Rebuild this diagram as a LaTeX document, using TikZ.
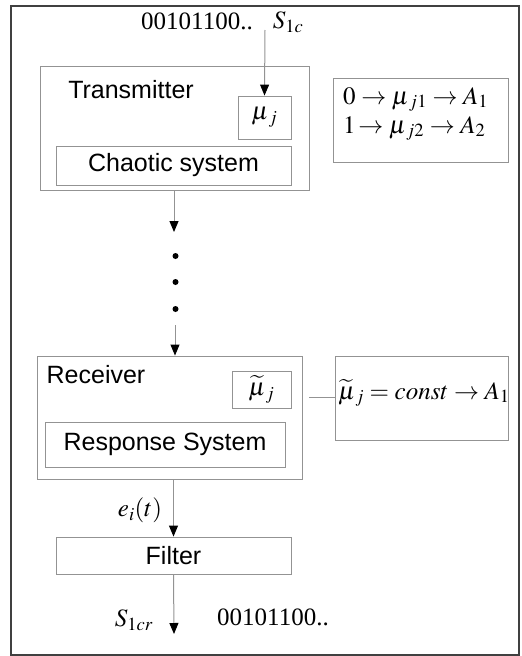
\documentclass[tikz,border=0pt]{standalone}
\usepackage{mathptmx}
\usepackage{fontspec}
\setmainfont{Liberation Serif}
\setsansfont{Liberation Sans}
\usetikzlibrary{arrows.meta}

\begin{document}
\begin{tikzpicture}[x=1pt,y=-1pt,
    box/.style={draw=gray!85,line width=0.9pt,inner sep=0pt},
    wire/.style={draw=gray!85,line width=1pt},
    sig/.style={wire,-{Triangle[length=11pt,width=9pt,color=black]}},
    txt/.style={font=\fontsize{25}{29}\selectfont\sffamily,inner sep=0pt},
    mth/.style={font=\fontsize{25}{29}\selectfont,inner sep=0pt}]
    \useasboundingbox (0,0) rectangle (522,656);
    \draw[line width=1.3pt,black!75] (11,6) rectangle (519,655);

    \node[box,minimum width=269pt,minimum height=124pt] (tx) at (174.5,128) {};
    \node[txt] (txname) at (131,90) {Transmitter};
    \node[box,minimum width=53pt,minimum height=43pt,mth] (mu) at (264.5,117.5) {$\mu_{\,j}$};
    \node[box,minimum width=235pt,minimum height=39pt,txt] (chaos) at (173.5,165.5) {Chaotic system};
    \node[mth] (bitsin) at (197,21) {00101100..};
    \node[mth] (sin) at (288,22) {$S_{1c}$};
    \coordinate (in) at (265,30);
    \draw[sig] (in) -- (mu.north);

    \node[box,minimum width=175pt,minimum height=84pt] (map) at (420.5,120) {};
    \node[mth,align=left,anchor=west] (maptext) at (343,114)
        {$0\rightarrow\mu_{\,j1}\rightarrow A_1$\\[0pt]$1\!\rightarrow\mu_{\,j2}\rightarrow A_2$};

    \coordinate (d1) at (174,232);
    \draw[sig] (tx.south -| d1) -- (d1);
    \foreach \y in {256,282,309}
        \fill (175.5,\y) circle (3pt);
    \coordinate (d2) at (175,325);

    \node[box,minimum width=265pt,minimum height=123pt] (rx) at (169.5,417.5) {};
    \draw[sig] (d2) -- (rx.north -| d2);
    \node[txt] (rxname) at (96,375) {Receiver};
    \node[box,minimum width=59pt,minimum height=37pt,mth] (mut) at (261.5,389.5) {$\widetilde{\mu}_{\,j}$};
    \node[box,minimum width=240pt,minimum height=45pt,txt] (resp) at (165,444.5) {Response System};

    \node[box,minimum width=173pt,minimum height=84pt] (rule) at (421.5,398) {};
    \node[mth,anchor=west] (ruletext) at (338,393) {$\widetilde{\mu}_{\,j}=const\rightarrow A_1$};
    \coordinate (gap) at (309,397);
    \draw[wire] (gap) -- (rule.west |- gap);

    \node[box,minimum width=235pt,minimum height=37pt,txt] (filter) at (173.5,555.5) {Filter};
    \draw[sig] (rx.south -| filter.north) -- (filter.north);
    \node[mth] (err) at (140,510) {$e_i(t)$};
    \coordinate (out) at (174,634);
    \draw[sig] (filter.south) -- (out);
    \node[mth] (sout) at (134,620) {$S_{1cr}$};
    \node[mth] (bitsout) at (273,617) {00101100..};
\end{tikzpicture}
\end{document}
